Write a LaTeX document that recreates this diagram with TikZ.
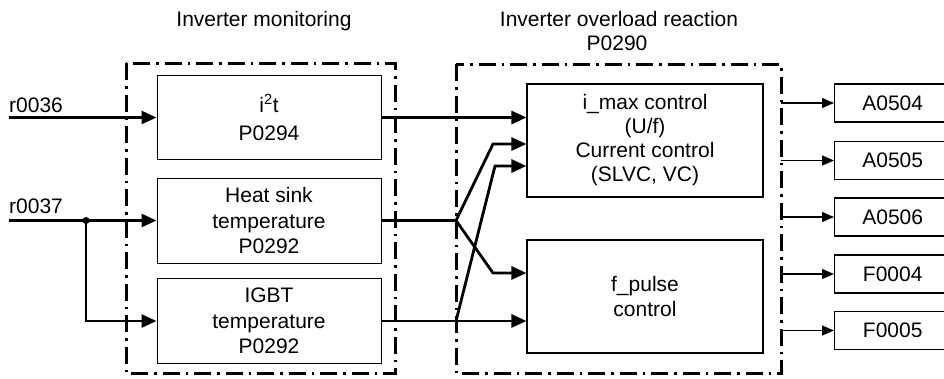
\documentclass[tikz,border=0pt]{standalone}
\usepackage{fontspec}
\setmainfont{Liberation Sans}
\usetikzlibrary{arrows.meta}
\begin{document}
\begin{tikzpicture}[x=1pt,y=-1pt,
  every node/.style={font=\fontsize{21}{25.5}\selectfont},
  blk/.style={draw,line width=1pt,align=center,inner sep=0pt,minimum width=224pt,minimum height=85pt},
  rblk/.style={draw,line width=1.2pt,align=center,inner sep=0pt,minimum width=236pt,minimum height=113pt},
  oblk/.style={draw,line width=1.4pt,inner sep=0pt,minimum width=116pt,minimum height=38pt},
  frame/.style={line width=3pt,dash pattern=on 17pt off 6pt on 2.5pt off 6pt},
  tharr/.style={line width=2.8pt,-{Triangle[length=15pt,width=13pt]}},
  tnarr/.style={line width=1.1pt,-{Triangle[length=12pt,width=10pt]}},
  lbl/.style={inner sep=0pt}
]
\useasboundingbox (0,0) rectangle (944,378);

% titles
\node[lbl,anchor=base] (t1) at (264,26) {Inverter monitoring};
\node[lbl,anchor=base] (t2) at (619,26) {Inverter overload reaction};
\node[lbl,anchor=base] (t3) at (617,50) {P0290};

% frames
\draw[frame] (126,63) rectangle (395,373);
\draw[frame] (456,64) rectangle (781,373);

% monitoring blocks
\node[blk,minimum height=84pt] (i2t) at (269,117.5) {i\textsuperscript{2}t\\[3pt]P0294};
\node[blk] (heat) at (269,220.5) {Heat sink\\temperature\\P0292};
\node[blk] (igbt) at (269,321) {IGBT\\temperature\\P0292};

% reaction blocks
\node[rblk,font=\fontsize{21}{24}\selectfont] (imax) at (645,140.5) {i\_max control\\(U/f)\\Current control\\(SLVC, VC)};
\node[rblk] (fp) at (645,296.5) {f\_pulse\\control};

% output blocks
\node[oblk,anchor=west] (a4) at (834,103) {A0504};
\node[oblk,anchor=west] (a5) at (834,160.5) {A0505};
\node[oblk,anchor=west] (a6) at (834,217) {A0506};
\node[oblk,anchor=west] (f4) at (834,274) {F0004};
\node[oblk,anchor=west] (f5) at (834,330.5) {F0005};

% inputs
\node[lbl,anchor=base west] (r36) at (9,112) {r0036};
\node[lbl,anchor=base west] (r37) at (9,213) {r0037};
\coordinate (in36) at (9,117.5);
\coordinate (in37) at (9,220.5);
\coordinate (jn) at (86,220.5);
\draw[tharr] (in36) -- (i2t.west);
\draw[tharr] (in37) -- (heat.west);
\draw[tharr] (jn) |- (igbt.west);
\fill (jn) circle (3.5pt);

% monitoring -> reaction
\coordinate (hs) at (456,220.5);
\coordinate (gs) at (456,321);
\coordinate (k1) at (493,144);
\coordinate (k2) at (493,273);
\coordinate (k3) at (495,166);
\draw[tharr] (i2t.east) -- (i2t.east -| imax.west);
\draw[tharr] (heat.east) -- (hs) -- (k1) -- (k1 -| imax.west);
\draw[tharr] (hs) -- (k2) -- (k2 -| fp.west);
\draw[tharr] (igbt.east) -- (gs) -- (gs -| fp.west);
\draw[tharr] (gs) -- (k3) -- (k3 -| imax.west);

% outputs
\coordinate (o1) at (781,103);
\coordinate (o2) at (781,160.5);
\coordinate (o3) at (781,217);
\coordinate (o4) at (781,274);
\coordinate (o5) at (781,330.5);
\draw[tnarr] (o1) -- (a4.west);
\draw[tnarr] (o2) -- (a5.west);
\draw[tnarr] (o3) -- (a6.west);
\draw[tnarr] (o4) -- (f4.west);
\draw[tnarr] (o5) -- (f5.west);
\end{tikzpicture}
\end{document}
